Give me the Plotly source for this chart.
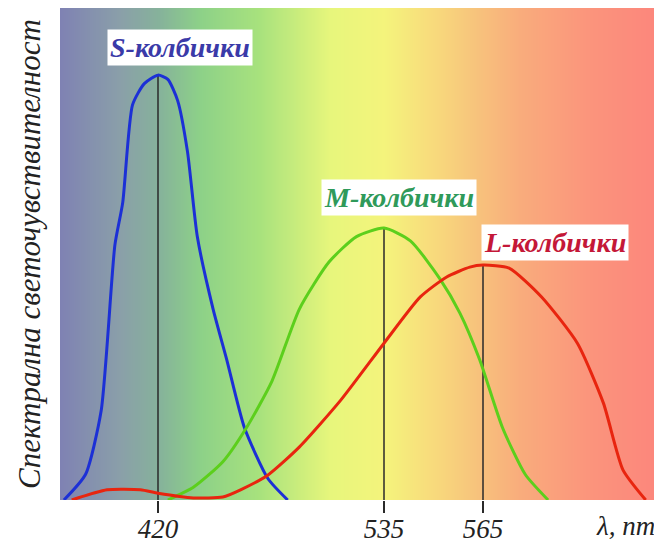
import numpy as np
import plotly.graph_objects as go

# ---- data (wavelength in nm, relative sensitivity) ----
s_nm = [372, 383, 391, 398, 402, 407, 413, 420, 425, 430, 435, 440, 448, 455, 464, 476, 486]
s_val = [0.0, 0.06, 0.21, 0.60, 0.70, 0.93, 0.98, 1.0, 0.99, 0.94, 0.82, 0.62, 0.45, 0.33, 0.17, 0.05, 0.0]

m_nm = [425, 438, 453, 465, 478, 492, 507, 521, 535, 543, 552, 558, 564, 571, 578, 585]
m_val = [0.0, 0.03, 0.09, 0.17, 0.28, 0.45, 0.56, 0.62, 0.64, 0.61, 0.52, 0.44, 0.33, 0.17, 0.06, 0.0]

l_nm = [376, 394, 411, 420, 438, 453, 462, 476, 492, 513, 535, 546, 554, 561, 565, 573, 583, 594, 602, 608, 615]
l_val = [0.0, 0.024, 0.024, 0.016, 0.005, 0.007, 0.024, 0.059, 0.125, 0.235, 0.369, 0.478, 0.525, 0.548, 0.553,
         0.546, 0.478, 0.369, 0.228, 0.071, 0.0]

peak_nm = [420, 535, 565]
tick_labels = ["420", "535", "565"]
names = ["S-колбички", "M-колбички", "L-колбички"]
label_nm = [431, 539.5, 587]
label_y = [1.064, 0.711, 0.605]

# non-linear display scale of the original drawing (nm -> axis units)
anchor_nm = [370, 420, 535, 565, 620]
anchor_u = [0, 98, 324, 423, 602]


def pos(nm):
    return np.interp(nm, anchor_nm, anchor_u)


bg_colors = ["#7f82b3", "#8a9fa9", "#86b39a", "#8dd188", "#a8e27d", "#e7f67c",
             "#f4f47c", "#f8dc7c", "#f7c67c", "#f9ac7c", "#fb947c", "#fc857c"]
bg_u = [0, 60, 100, 140, 200, 270, 324, 370, 410, 460, 530, 602]

Y_MAX = 1.158
fig = go.Figure()

# background gradient
xs = np.linspace(0, 602, 300)
zrow = np.interp(xs, bg_u, np.arange(len(bg_u))) / (len(bg_u) - 1)
colorscale = [[i / (len(bg_colors) - 1), c] for i, c in enumerate(bg_colors)]
fig.add_trace(go.Heatmap(x=xs, y=[0, Y_MAX], z=[zrow, zrow], colorscale=colorscale,
                         zmin=0, zmax=1, showscale=False, hoverinfo="skip", zsmooth="best"))

series = [(s_nm, s_val, "#1c30d6"), (m_nm, m_val, "#5ccf1c"), (l_nm, l_val, "#e8250f")]

# vertical peak lines
for (xn, yv, c), p in zip(series, peak_nm):
    fig.add_trace(go.Scatter(x=pos([p, p]), y=[0, max(yv)], mode="lines",
                             line=dict(color="#2a2a2a", width=1.5), hoverinfo="skip", showlegend=False))

for xn, yv, c in series:
    fig.add_trace(go.Scatter(x=pos(xn), y=yv, mode="lines",
                             line=dict(color=c, width=3, shape="spline", smoothing=0.6),
                             showlegend=False))

label_colors = ["#3a3aa8", "#2f9a5a", "#c41838"]
for t, xn, y, c in zip(names, label_nm, label_y, label_colors):
    fig.add_annotation(x=float(pos(xn)), y=y, xref="x", yref="y", text=t, showarrow=False,
                       bgcolor="white", borderpad=2,
                       font=dict(family="Liberation Serif", size=28, color=c, style="italic", weight="bold"))

fig.add_annotation(xref="paper", yref="paper", x=-31 / 602, xanchor="center", y=0.5, yanchor="middle",
                   text="Спектрална светочувствителност",
                   textangle=-90, showarrow=False,
                   font=dict(family="Liberation Serif", size=31, color="#222", style="italic"))
fig.add_annotation(xref="paper", yref="paper", x=1.0 - 5 / 602, xanchor="right", y=-26 / 492, yanchor="middle",
                   text="λ, nm", showarrow=False,
                   font=dict(family="Liberation Serif", size=27, color="#222", style="italic"))

fig.update_xaxes(range=[0, 602], tickvals=pos(peak_nm), ticktext=tick_labels, ticks="outside",
                 ticklen=12, tickwidth=1.5, tickcolor="#2a2a2a", showgrid=False, zeroline=False,
                 showline=False, ticklabelstandoff=-7,
                 tickfont=dict(family="Liberation Serif", size=27, color="#222", style="italic"))
fig.update_yaxes(range=[0, Y_MAX], showticklabels=False, showgrid=False, zeroline=False, ticks="")

# page body has an 8px default margin: figure is sized/offset to compensate
fig.update_layout(width=654, height=538, margin=dict(l=52, r=0, t=0, b=46),
                  paper_bgcolor="white", plot_bgcolor="white")

fig.write_html("out.html")
